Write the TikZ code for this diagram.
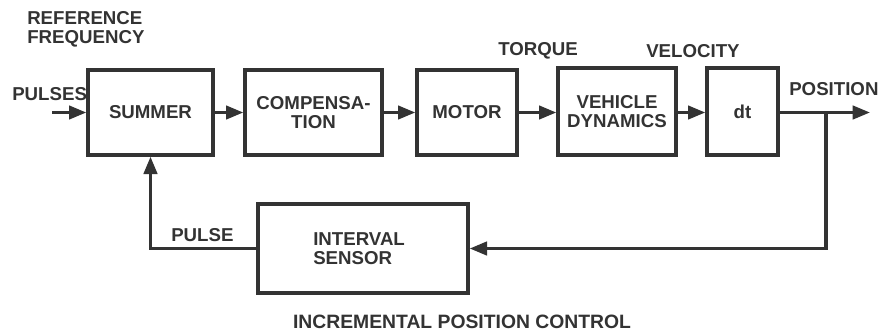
\documentclass[tikz,border=0pt]{standalone}
\usepackage{fontspec}
\setmainfont{Liberation Sans}
\usetikzlibrary{arrows.meta}
\definecolor{ink}{RGB}{51,51,51}

\begin{document}
\begin{tikzpicture}[x=0.75pt,y=0.75pt,yscale=-1,xscale=1,
  blockbox/.style={draw=ink,line width=2.5pt,minimum height=63.75pt,inner sep=0pt,align=center},
  flow/.style={draw=ink,line width=2.5pt,-{Triangle[length=13pt,width=10pt]}},
  wire/.style={draw=ink,line width=2.5pt},
  lbl/.style={text=ink,inner sep=0.75pt,font=\bfseries\fontsize{14}{14.5}\selectfont}]
\useasboundingbox (0,0) rectangle (887,333);

%Shape: Rectangle [id:summer]
\node [blockbox,lbl,minimum width=93.75pt] (summer) at (150.5,112.5) {SUMMER};
%Shape: Rectangle [id:comp]
\node [blockbox,lbl,minimum width=102.75pt] (comp) at (313.5,112.5) {COMPENSA-\\TION};
%Shape: Rectangle [id:motor]
\node [blockbox,lbl,minimum width=75pt] (motor) at (467,112.5) {MOTOR};
%Shape: Rectangle [id:vehicle]
\node [blockbox,lbl,minimum width=88.5pt,minimum height=65.25pt] (vehicle) at (617,111.5) {VEHICLE\\DYNAMICS};
%Shape: Rectangle [id:dt]
\node [blockbox,lbl,minimum width=53.25pt,minimum height=65.25pt] (dt) at (742.5,111.5) {dt};
%Shape: Rectangle [id:sensor]
\node [blockbox,minimum width=157.5pt,minimum height=66.75pt] (sensor) at (363,248.5) {};

\coordinate (pulsesin) at (52,112.5);
\coordinate (posout) at (870,112.5);
\coordinate (branch) at (826,112.5);

%Straight Lines [id:forward]
\draw [flow] (pulsesin) -- (summer.west);
\draw [flow] (summer.east) -- (comp.west);
\draw [flow] (comp.east) -- (motor.west);
\draw [flow] (motor.east) -- (vehicle.west |- motor.east);
\draw [flow] (vehicle.east |- motor.east) -- (dt.west |- motor.east);
\draw [flow] (dt.east |- motor.east) -- (posout);
%Straight Lines [id:feedback]
\draw [flow] (branch) -- (branch |- sensor.east) -- (sensor.east);
\draw [flow] (sensor.west) -| (summer.south);

% Text Node
\draw (26,10) node [anchor=north west,align=left,lbl] (reflbl) {REFERENCE\\FREQUENCY};
% Text Node
\draw (11,94) node [anchor=west,lbl] (pulseslbl) {PULSES};
% Text Node
\draw (497,51) node [anchor=west,lbl] (torquelbl) {TORQUE};
% Text Node
\draw (645,51) node [anchor=west,lbl] (velolbl) {VELOCITY};
% Text Node
\draw (788,89) node [anchor=west,lbl] (poslbl) {POSITION};
% Text Node
\draw (170,235) node [anchor=west,lbl] (pulselbl) {PULSE};
% Text Node
\draw (312,248.5) node [anchor=west,align=left,lbl] (sensorlbl) {INTERVAL\\SENSOR};
% Text Node
\draw (462,322) node [lbl,font=\bfseries\fontsize{14.5}{15}\selectfont] (title) {INCREMENTAL POSITION CONTROL};

\end{tikzpicture}
\end{document}
